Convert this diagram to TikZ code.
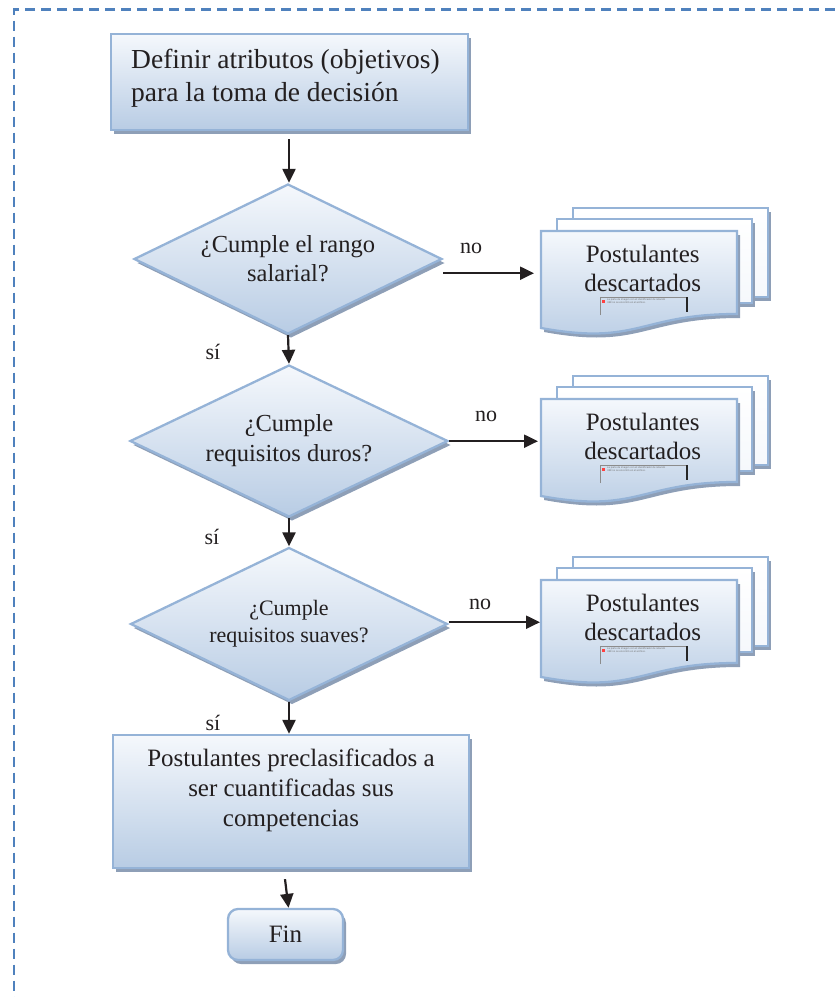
\documentclass[tikz,border=0pt]{standalone}
\usepackage{fontspec}
\setmainfont{Liberation Serif}
\newfontfamily\tinysans{Liberation Sans}
\usetikzlibrary{shapes.geometric,arrows.meta,shadows,calc}

\definecolor{frameblue}{HTML}{4F81BD}
\definecolor{edgeblue}{HTML}{95B3D7}
\definecolor{fillTop}{HTML}{F5F8FC}
\definecolor{fillBot}{HTML}{B8CCE4}
\definecolor{shadowgrey}{HTML}{8E9FB7}
\definecolor{inkblack}{HTML}{231F20}

\newcommand{\fs}[2]{\fontsize{#1}{#2}\selectfont}

\tikzset{
  bluefill/.style={top color=fillTop, bottom color=fillBot, draw=edgeblue, line width=2.3pt},
  wordshadow/.style={drop shadow={shadow xshift=3pt, shadow yshift=-4pt, fill=shadowgrey, opacity=1}},
  procbox/.style={rectangle, bluefill, wordshadow, inner sep=0pt},
  decision/.style={diamond, aspect=2.1, bluefill, wordshadow, inner sep=0pt, align=center},
  pagefill/.style={top color=white, bottom color=fillTop, draw=edgeblue, line width=2.3pt},
  arr/.style={-{Triangle[length=14pt,width=13pt]}, line width=2.2pt, inkblack},
  lbl/.style={font=\fs{22}{26}, inner sep=0pt, text=inkblack},
  doctext/.style={font=\fs{25}{29}, align=center, inner sep=0pt, text=inkblack},
  pics/pagestack/.style={code={
    % two sheets behind the front one
    \path[pagefill, wordshadow] (32,-23) rectangle (227,66);
    \path[pagefill, wordshadow] (16,-12) rectangle (211,72);
    % front sheet with wavy lower edge
    \path[bluefill, wordshadow] (0,0) -- (196,0) -- (196,83)
      .. controls (98,83) and (98,115) .. (0,97) -- cycle;
    % missing-picture frame
    \draw[black!45, line width=0.7pt] (59,84) -- (59,66) -- (146,66);
    \draw[black!85, line width=1.2pt] (146,66) -- (146,81);
    \fill[red!75] (61,68.5) rectangle (63.5,72);
    \node[anchor=north west, inner sep=0pt, align=left, text=black!55,
          font=\tinysans\fs{2.6}{3.2}] (-img) at (66,67.5)
      {La parte de imagen con el identificador de relación\\rId8 no se encontró en el archivo.};
  }},
}

\begin{document}
\begin{tikzpicture}[x=1pt, y=-1pt, every node/.append style={text=inkblack}]
\useasboundingbox (0,0) rectangle (835,997);

% dashed outer frame
\draw[frameblue, line width=2.3pt, dash pattern=on 10pt off 6pt]
  (835,9.5) -- (14,9.5) -- (14,997);

% start box
\node[procbox, minimum width=357pt, minimum height=96pt] (b1) at (289.5,82) {};
\node[anchor=west, align=left, inner sep=0pt, font=\fs{27.5}{33}] (b1t) at (131,78)
  {Definir atributos (objetivos)\\para la toma de decisión};

% decisions
\node[decision, minimum width=308pt, minimum height=150pt, font=\fs{24.5}{29}] (q1) at (288,259)
  {¿Cumple el rango\\salarial?};
\node[decision, minimum width=318pt, minimum height=152pt, font=\fs{24.5}{30}] (q2) at (289,441)
  {¿Cumple\\requisitos duros?};
\node[decision, minimum width=317pt, minimum height=153pt, font=\fs{22}{27}] (q3) at (289,624)
  {¿Cumple\\requisitos suaves?};

% rejected applicants
\pic (s1) at (541,231) {pagestack};
\node[anchor=north west, minimum width=196pt, minimum height=84pt, inner sep=0pt] (f1) at (541,231) {};
\node[doctext] (t1) at ($(f1.center)+(3.5,-4.5)$) {Postulantes\\descartados};

\pic (s2) at (541,399) {pagestack};
\node[anchor=north west, minimum width=196pt, minimum height=84pt, inner sep=0pt] (f2) at (541,399) {};
\node[doctext] (t2) at ($(f2.center)+(3.5,-4.5)$) {Postulantes\\descartados};

\pic (s3) at (541,580) {pagestack};
\node[anchor=north west, minimum width=196pt, minimum height=84pt, inner sep=0pt] (f3) at (541,580) {};
\node[doctext] (t3) at ($(f3.center)+(3.5,-4.5)$) {Postulantes\\descartados};

% result box
\node[procbox, minimum width=356pt, minimum height=133pt] (b2) at (291,801.5) {};
\node[align=center, inner sep=0pt, font=\fs{25}{30}] (b2t) at (291,790)
  {Postulantes preclasificados a\\ser cuantificadas sus\\competencias};

% end
\node[procbox, rounded corners=10pt, minimum width=115pt, minimum height=51pt, font=\fs{25}{30}] (fin) at (285.5,934.5) {Fin};

% flow
\draw[arr] ($(q1.north |- b1.south)+(1,8)$) -- ($(q1.north)+(1,0)$);
\draw[arr] (q1.south) -- (q2.north);
\draw[arr] (q2.south) -- (q3.north);
\draw[arr] (q3.south) -- (q3.south |- b2.north);
\draw[arr] ($(b2.south)+(-6,10)$) -- ($(fin.north)+(3,0)$);

\draw[arr, shorten >=7pt] (q1.east |- f1.west) -- (f1.west);
\draw[arr, shorten >=3pt] (q2.east |- f2.west) -- (f2.west);
\draw[arr, shorten >=1pt] (q3.east |- f3.west) -- (f3.west);

% branch labels
\node[lbl] (n1) at (471,248) {no};
\node[lbl] (n2) at (486,416) {no};
\node[lbl] (n3) at (480,604) {no};
\node[lbl] (y1) at (213,352) {sí};
\node[lbl] (y2) at (212,537) {sí};
\node[lbl] (y3) at (213,723) {sí};
\end{tikzpicture}
\end{document}
